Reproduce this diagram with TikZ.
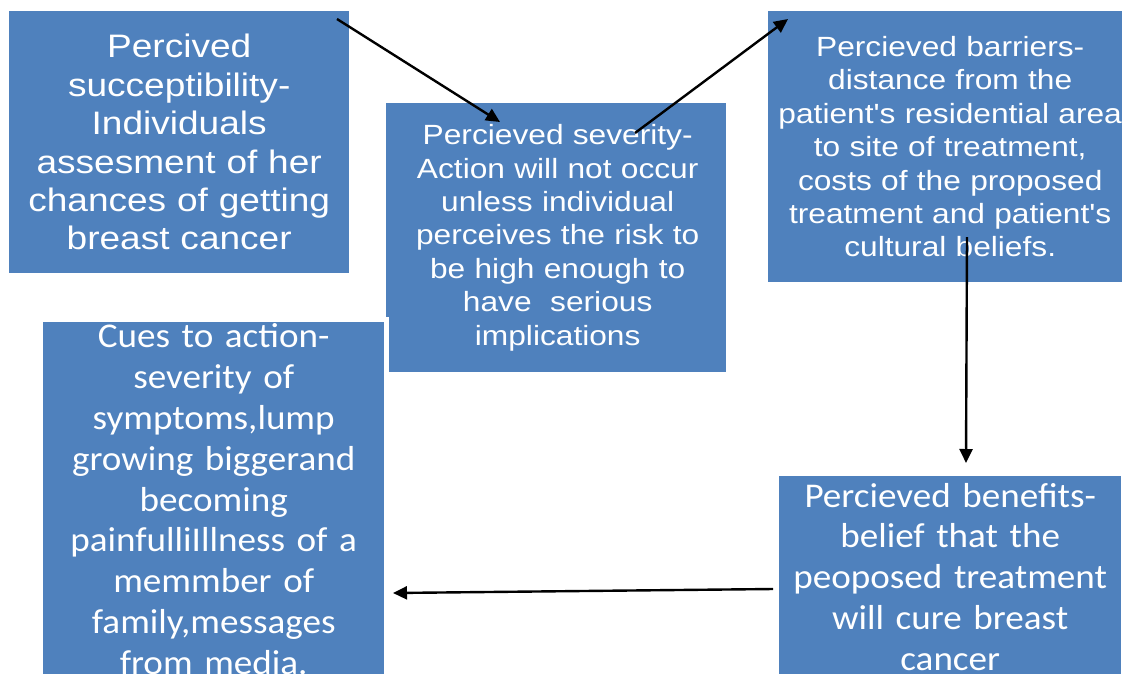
\documentclass[tikz,border=0pt]{standalone}
\usepackage{fontspec}
\usetikzlibrary{arrows.meta}
\newfontfamily\arialf[FakeStretch=1.14]{Liberation Sans}
\newfontfamily\calf[FakeStretch=1.07]{Carlito}
\definecolor{boxblue}{HTML}{4F81BD}
\tikzset{
  hbmbox/.style={rectangle, fill=boxblue, draw=none, inner sep=0pt, anchor=north west,
    text=white, align=center},
  arialbig/.style={font=\arialf\fontsize{32.5}{38.4}\selectfont},
  arialmid/.style={font=\arialf\fontsize{27.8}{33.4}\selectfont},
  calbox/.style={font=\calf\fontsize{34.7}{40.8}\selectfont},
  hbmarrow/.style={line width=2.4pt, -{Triangle[length=14pt,width=13pt]}}
}
\begin{document}
\begin{tikzpicture}[x=1pt,y=-1pt]
\useasboundingbox (0,0) rectangle (1122,673);
\node[hbmbox, arialbig, minimum width=340pt, minimum height=262pt, text width=336pt] (b1) at (9,11)
  {Percived\\succeptibility-\\Individuals\\assesment of her\\chances of getting\\breast cancer};
\fill[boxblue] (386,103) rectangle (390,317);
\node[hbmbox, arialmid, minimum width=337pt, minimum height=269pt, text width=333pt] (b2) at (389,103)
  {Percieved severity-\\Action will not occur\\unless individual\\perceives the risk to\\be high enough to\\have\ \ serious\\implications};
\node[hbmbox, arialmid, minimum width=364pt, minimum height=271pt, text width=360pt] (b3) at (768,11)
  {Percieved barriers-\\distance from the\\patient's residential area\\to site of treatment,\\costs of the proposed\\treatment and patient's\\cultural beliefs.};
\node[hbmbox, calbox, minimum width=341pt, minimum height=354pt, text width=337pt] (b4) at (43,322)
  {Cues to action-\\severity of\\symptoms,lump\\growing biggerand\\becoming\\painfulliIllness of a\\memmber of\\family,messages\\from media.};
\node[hbmbox, calbox, minimum width=342pt, minimum height=201pt, text width=338pt] (b5) at (779,476)
  {Percieved benefits-\\belief that the\\peoposed treatment\\will cure breast\\cancer};
\coordinate (a1s) at (337,19);
\coordinate (a1e) at (500,122);
\coordinate (a2s) at (635,133);
\coordinate (a2e) at (788,19);
\coordinate (a3s) at (967,237);
\coordinate (a3e) at (966,463);
\coordinate (a4s) at (773,589);
\coordinate (a4e) at (393,593);
\draw[hbmarrow] (a1s) -- (a1e);
\draw[hbmarrow] (a2s) -- (a2e);
\draw[hbmarrow] (a3s) -- (a3e);
\draw[hbmarrow] (a4s) -- (a4e);
\end{tikzpicture}
\end{document}
